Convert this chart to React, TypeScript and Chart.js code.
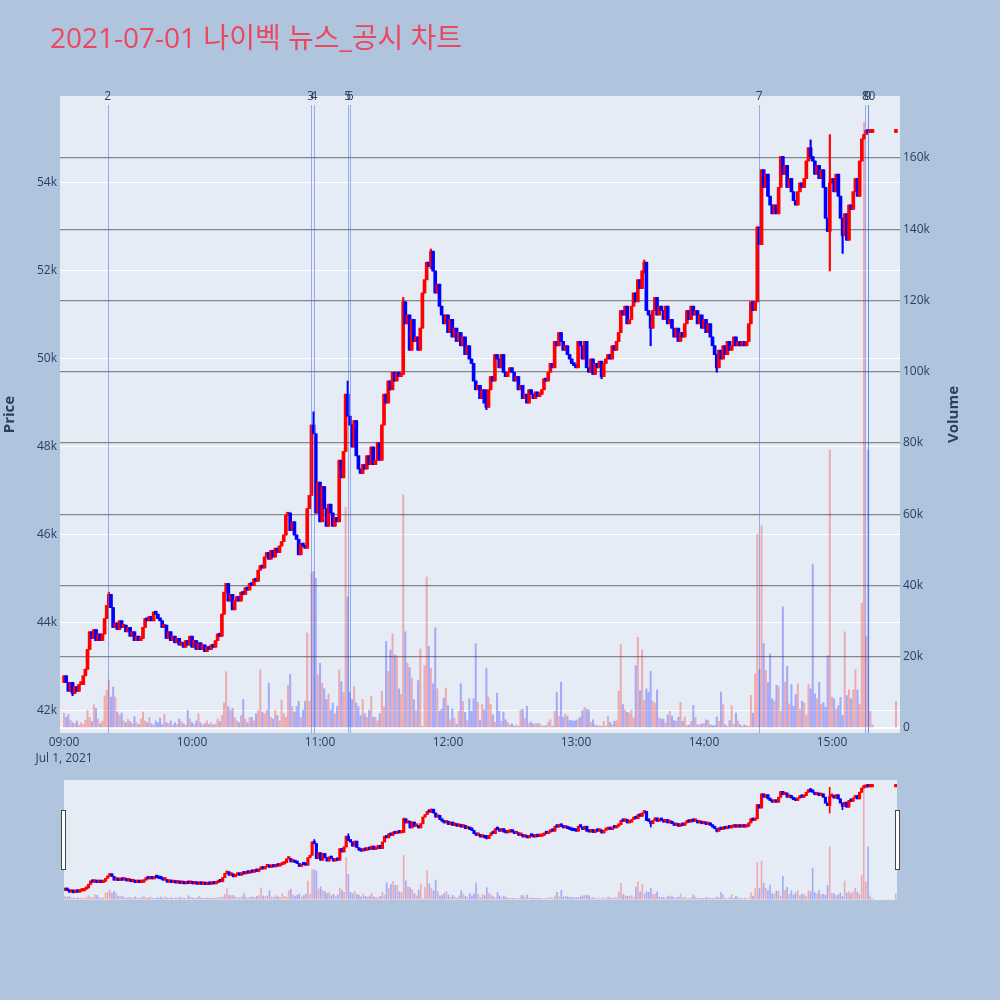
import React, { useEffect, useRef } from "react";
import { Chart, registerables } from "chart.js";

Chart.register(...registerables);

// ---------------- data ----------------
const TITLE = "2021-07-01 나이벡 뉴스_공시 차트";
const PRICE_TITLE = "Price";
const VOLUME_TITLE = "Volume";

const firstOpen = 42650;

// 1-minute closes, minute 0 = 09:00
const closes0900 = [
  42800, 42650, 42450, 42650, 42400, 42550, 42450, 42600, 42600, 42800,
  42950, 43400, 43800, 43650, 43850, 43600, 43750, 43600, 43750, 44100,
  44400, 44650, 44350, 43900, 44000, 43850, 44050, 43900, 43950, 43800,
  43900, 43700, 43800, 43600, 43700, 43600, 43650, 43900, 44100, 44050,
  44150, 44050, 44250, 44200, 44100, 44050, 43900, 43950, 43650, 43800,
  43600, 43700, 43550, 43650, 43500, 43550, 43450, 43600, 43500, 43700,
];
const closes1000 = [
  43450, 43600, 43400, 43550, 43400, 43500, 43350, 43450, 43400, 43500,
  43450, 43600, 43750, 43700, 44200, 44700, 44900, 44500, 44650, 44300,
  44500, 44600, 44500, 44700, 44650, 44800, 44750, 44900, 44850, 45000,
  44950, 45200, 45300, 45250, 45500, 45600, 45450, 45650, 45500, 45700,
  45600, 45750, 45850, 46000, 46450, 46500, 46100, 46300, 46000, 45900,
  45550, 45800, 45750, 45700, 46600, 46900, 48500, 48300, 46500, 47200,
];
const closes1100 = [
  46300, 47100, 46600, 46200, 46700, 46500, 46200, 46400, 46300, 47700,
  47300, 47900, 49200, 48700, 48500, 48000, 48600, 47800, 47500, 47400,
  47600, 47500, 47800, 47600, 48000, 47600, 47700, 48100, 47700, 48500,
  49200, 49000, 49500, 49300, 49700, 49500, 49700, 49600, 49650, 51300,
  50800, 51000, 50200, 50900, 50400, 50500, 50200, 50700, 51500, 51800,
  52200, 52100, 52450, 52000, 51500, 51700, 51200, 51000, 50800, 51000,
];
const closes1200 = [
  50600, 50900, 50500, 50700, 50400, 50600, 50300, 50500, 50100, 50300,
  50000, 49900, 49500, 49300, 49400, 49100, 49300, 49000, 48900, 49300,
  49600, 49500, 50100, 50000, 49800, 50100, 49700, 49600, 49700, 49800,
  49700, 49500, 49600, 49300, 49400, 49100, 49200, 49000, 49300, 49200,
  49100, 49250, 49150, 49200, 49300, 49550, 49500, 49700, 49900, 49800,
  50400, 50300, 50600, 50400, 50200, 50300, 50100, 50000, 49900, 49850,
];
const closes1300 = [
  49800, 50400, 50300, 50000, 50400, 49800, 49700, 50000, 49650, 49900,
  49800, 49950, 49600, 49900, 50000, 50100, 50000, 50300, 50200, 50400,
  50600, 51100, 51000, 51200, 50800, 50900, 51200, 51500, 51300, 51800,
  51600, 52000, 52200, 51100, 51000, 50700, 51100, 51400, 51000, 51200,
  51100, 50900, 51200, 50800, 50900, 50700, 50500, 50700, 50400, 50600,
  50500, 50800, 51100, 50900, 51200, 51000, 51100, 50800, 51000, 50700,
];
const closes1400 = [
  50900, 50600, 50800, 50500, 50300, 50100, 49800, 50200, 50000, 50300,
  50100, 50400, 50200, 50300, 50500, 50300, 50400, 50300, 50400, 50300,
  50400, 50800, 51300, 51100, 51300, 53000, 52600, 54300, 53900, 54200,
  53700, 53500, 53300, 53500, 53300, 53900, 54600, 54200, 54400, 53900,
  54100, 53800, 53600, 53500, 53800, 54000, 53900, 54100, 54500, 54800,
  54600, 54500, 54200, 54400, 54100, 54300, 53900, 53200, 52900, 54000,
];
const closes1500 = [
  54100, 53800, 54200, 53700, 53200, 52800, 53300, 52700, 53500, 53400,
  53800, 54100, 53700, 54500, 55000, 55100, 55200, 55150, 55150, 55150,
];
const auctionMinute = 390; // 15:30 closing auction
const auctionClose = 55200;

const volumes0900 = [
  4200, 3000, 3800, 2200, 1500, 1200, 2000, 800, 1500, 1000,
  2200, 5000, 3000, 1800, 6500, 5500, 2500, 1200, 2000, 9000,
  10500, 13500, 8700, 11500, 8700, 4500, 3500, 4200, 2000, 1500,
  2500, 1800, 1200, 3200, 1500, 1000, 2500, 4500, 2000, 1500,
  3000, 1200, 800, 2000, 1500, 2800, 1000, 3800, 1500, 1200,
  2000, 800, 1500, 1000, 2500, 1800, 1200, 800, 5000, 2500,
];
const volumes1000 = [
  1500, 1000, 2000, 4000, 1500, 800, 1200, 2000, 1000, 1500,
  800, 1200, 2500, 1800, 3500, 7000, 15800, 6000, 5000, 5500,
  3000, 2000, 1500, 3500, 8000, 2500, 1500, 3000, 3000, 2000,
  4000, 5000, 16300, 4500, 4000, 5000, 12600, 3000, 2500, 5000,
  3500, 2000, 7900, 4000, 3000, 12000, 15000, 6000, 4500, 6000,
  7500, 3000, 5000, 7500, 26700, 7500, 43500, 44000, 42000, 15000,
];
const volumes1100 = [
  18200, 12600, 11000, 8000, 9500, 5000, 7000, 4000, 6000, 16300,
  13000, 10000, 62000, 36800, 10000, 8000, 11600, 7000, 6000, 3500,
  8000, 4000, 3000, 5000, 8800, 3000, 3000, 2000, 4000, 10300,
  6000, 24300, 15900, 21900, 26400, 20500, 20300, 11000, 9400, 65400,
  27000, 18200, 17000, 14000, 8000, 4900, 13300, 22200, 500, 17500,
  42400, 22900, 16700, 12400, 28100, 11000, 4700, 5300, 8400, 11200,
];
const volumes1200 = [
  6300, 2300, 5400, 2800, 1100, 4700, 12400, 7500, 4400, 2100,
  8200, 4700, 8200, 23700, 7200, 2100, 6600, 5100, 16800, 8700,
  6600, 3700, 1600, 9800, 4700, 1900, 4500, 2300, 1600, 900,
  1200, 500, 800, 500, 5000, 5300, 2700, 6100, 1400, 1700,
  1100, 1200, 1200, 1200, 600, 600, 600, 1600, 2300, 500,
  4700, 10000, 3300, 12900, 3000, 3900, 3300, 2100, 2100, 1900,
];
const volumes1300 = [
  2100, 2500, 3000, 4900, 5800, 5300, 5100, 1600, 2300, 900,
  600, 600, 500, 1900, 600, 3300, 1600, 900, 1900, 2100,
  10300, 23400, 6600, 5100, 4400, 4200, 5100, 2800, 17500, 25500,
  10500, 21900, 7800, 11000, 10000, 15900, 7500, 7000, 10700, 2800,
  2500, 2500, 1400, 3700, 4700, 3300, 2100, 1900, 3000, 7200,
  1900, 3100, 700, 800, 1900, 6300, 3000, 900, 900, 1200,
];
const volumes1400 = [
  1200, 2300, 2100, 900, 700, 700, 3100, 1900, 10100, 6600,
  900, 500, 2100, 6300, 1100, 4200, 1900, 900, 500, 900,
  700, 500, 9200, 4200, 15200, 54500, 16400, 56800, 23700, 16200,
  12800, 20800, 8200, 7500, 12000, 11700, 4700, 34000, 12900, 17300,
  6800, 12200, 6100, 9400, 12400, 5300, 7500, 7000, 3700, 12200,
  11000, 46000, 9600, 8200, 12800, 6700, 7200, 5800, 20300, 78000,
];
const volumes1500 = [
  8700, 8200, 5300, 6300, 8600, 3500, 27000, 9100, 10700, 8200,
  10700, 16400, 10700, 6600, 35000, 170000, 25600, 78000, 4700, 900,
];
const auctionVolume = 7500;

// [minute, high, low] for candles whose wicks reach past their bodies
const wickExtremes: [number, number, number][] = [
  [4, 42650, 42350],
  [21, 44700, 44350],
  [117, 48800, 48300],
  [133, 49500, 48700],
  [159, 51400, 49650],
  [172, 52500, 52050],
  [198, 49300, 48850],
  [252, 49950, 49550],
  [272, 52250, 51950],
  [275, 51000, 50300],
  [306, 50100, 49700],
  [350, 54980, 54550],
  [359, 55100, 52000],
  [365, 53200, 52400],
];

// news / disclosure markers (minute offsets from 09:00)
const eventMinutes = [20.5, 115.6, 117.1, 133, 134.1, 325.9, 375.7, 376.9, 377.1];
const eventLabels = ["2", "3", "4", "5", "6", "7", "8", "9", "10"];

const hourTicks = [0, 60, 120, 180, 240, 300, 360];
const hourLabels = ["09:00", "10:00", "11:00", "12:00", "13:00", "14:00", "15:00"];
const dateLabel = "Jul 1, 2021";
const priceTicks = [42000, 44000, 46000, 48000, 50000, 52000, 54000];
const volumeTicks = [0, 20000, 40000, 60000, 80000, 100000, 120000, 140000, 160000];

// ---------------- styles ----------------
const PAPER_BG = "#B0C4DE";
const PLOT_BG = "#E5ECF6";
const TEXT = "#2a3f5f";
const UP = "#FF0000";
const DOWN = "#0000FF";
const VOL_UP = "rgba(255,0,0,0.28)";
const VOL_DOWN = "rgba(0,0,255,0.28)";
const FONT = '"Open Sans", "Noto Sans CJK KR", sans-serif';

function buildSeries() {
  const closes = [
    ...closes0900, ...closes1000, ...closes1100, ...closes1200,
    ...closes1300, ...closes1400, ...closes1500, auctionClose,
  ];
  const volumes = [
    ...volumes0900, ...volumes1000, ...volumes1100, ...volumes1200,
    ...volumes1300, ...volumes1400, ...volumes1500, auctionVolume,
  ];
  const n = closes.length;
  const times = closes.map((_, i) => (i < n - 1 ? i : auctionMinute));
  const opens = closes.map((_, i) => (i === 0 ? firstOpen : closes[i - 1]));
  const highs = closes.map((c, i) => Math.max(c, opens[i]));
  const lows = closes.map((c, i) => Math.min(c, opens[i]));
  wickExtremes.forEach(([m, h, l]) => {
    highs[m] = Math.max(highs[m], h);
    lows[m] = Math.min(lows[m], l);
  });
  const up = closes.map((c, i) => c >= opens[i]);
  return { times, opens, closes, highs, lows, volumes, up };
}

type Series = ReturnType<typeof buildSeries>;

function makeDatasets(s: Series, thin: boolean): any[] {
  return [
    {
      type: "bar",
      label: "Volume",
      yAxisID: "yv",
      data: s.times.map((t, i) => ({ x: t, y: s.volumes[i] })),
      backgroundColor: s.up.map((u) => (u ? VOL_UP : VOL_DOWN)),
      barThickness: thin ? 1 : 1.4,
      grouped: false,
      order: 3,
      borderWidth: 0,
    },
    {
      type: "bar",
      label: "Wick",
      yAxisID: "y",
      data: s.times.map((t, i) => ({ x: t, y: [s.lows[i], s.highs[i]] })),
      backgroundColor: s.up.map((u) => (u ? UP : DOWN)),
      barThickness: thin ? 1 : 1.5,
      grouped: false,
      order: 2,
      borderWidth: 0,
    },
    {
      type: "bar",
      label: "Body",
      yAxisID: "y",
      data: s.times.map((t, i) => ({ x: t, y: [s.opens[i], s.closes[i]] })),
      backgroundColor: s.up.map((u) => (u ? UP : DOWN)),
      barThickness: thin ? 2.5 : 3,
      minBarLength: thin ? 2.5 : 3,
      grouped: false,
      order: 1,
      borderWidth: 0,
    },
  ];
}

const plotBgPlugin = {
  id: "plotBg",
  beforeDraw(chart: any) {
    const { ctx, chartArea: a } = chart;
    ctx.save();
    ctx.fillStyle = PLOT_BG;
    ctx.fillRect(a.left, a.top, a.right - a.left, a.bottom - a.top);
    ctx.restore();
  },
};

const decorPlugin = {
  id: "decor",
  afterDatasetsDraw(chart: any) {
    const { ctx, chartArea: a } = chart;
    const xs = chart.scales.x;
    ctx.save();
    ctx.strokeStyle = "rgba(65,105,225,0.5)";
    ctx.lineWidth = 1;
    eventMinutes.forEach((m) => {
      const px = Math.round(xs.getPixelForValue(m)) + 0.5;
      ctx.beginPath();
      ctx.moveTo(px, a.top + 9);
      ctx.lineTo(px, a.bottom);
      ctx.stroke();
    });
    ctx.restore();
  },
  afterDraw(chart: any) {
    const { ctx, chartArea: a } = chart;
    const xs = chart.scales.x;
    ctx.save();
    // title
    ctx.fillStyle = "#EB4860";
    ctx.font = `28px ${FONT}`;
    ctx.textAlign = "left";
    ctx.textBaseline = "middle";
    ctx.fillText(TITLE, 50, 40);
    // event labels
    ctx.fillStyle = TEXT;
    ctx.font = `12px ${FONT}`;
    ctx.textAlign = "center";
    eventMinutes.forEach((m, i) => {
      ctx.fillText(eventLabels[i], xs.getPixelForValue(m), a.top + 1);
    });
    // axis titles
    const cy = (a.top + a.bottom) / 2;
    ctx.font = `bold 15px ${FONT}`;
    ctx.translate(10, cy);
    ctx.rotate(-Math.PI / 2);
    ctx.fillText(PRICE_TITLE, 0, 0);
    ctx.setTransform(1, 0, 0, 1, 0, 0);
    ctx.translate(954, cy);
    ctx.rotate(-Math.PI / 2);
    ctx.fillText(VOLUME_TITLE, 0, 0);
    ctx.restore();
  },
};

export default function App() {
  const mainRef = useRef<HTMLCanvasElement>(null);
  const sliderRef = useRef<HTMLCanvasElement>(null);

  useEffect(() => {
    const s = buildSeries();
    const tickFont = { family: FONT, size: 12, lineHeight: 1.2 };
    const xTickFont = { family: FONT, size: 12, lineHeight: 1.3333 };

    const main = new Chart(mainRef.current as HTMLCanvasElement, {
      type: "bar",
      data: { datasets: makeDatasets(s, false) },
      options: {
        responsive: false,
        animation: false,
        devicePixelRatio: 1,
        layout: { padding: { top: 96, left: 0, right: 0, bottom: 0 } },
        plugins: { legend: { display: false }, tooltip: { enabled: false } },
        scales: {
          x: {
            type: "linear",
            min: -1.9,
            max: 391.9,
            offset: false,
            afterFit: (sc: any) => { sc.height = 47; },
            afterBuildTicks: (sc: any) => { sc.ticks = hourTicks.map((v) => ({ value: v })); },
            ticks: {
              autoSkip: false,
              maxRotation: 0,
              padding: -6,
              color: TEXT,
              font: xTickFont,
              callback: (v: any) => {
                const i = hourTicks.indexOf(Number(v));
                if (i < 0) return "";
                return i === 0 ? [hourLabels[0], dateLabel] : hourLabels[i];
              },
            },
            grid: { display: false },
            border: { display: false },
          },
          y: {
            type: "linear",
            position: "left",
            min: 41500,
            max: 55977,
            afterFit: (sc: any) => { sc.width = 60; },
            afterBuildTicks: (sc: any) => { sc.ticks = priceTicks.map((v) => ({ value: v })); },
            ticks: {
              padding: 3,
              color: TEXT,
              font: tickFont,
              callback: (v: any) => `${Number(v) / 1000}k`,
            },
            grid: { color: "#ffffff", lineWidth: 1, drawTicks: false },
            border: { display: false },
          },
          yv: {
            type: "linear",
            position: "right",
            min: -1400,
            max: 177400,
            afterFit: (sc: any) => { sc.width = 100; },
            afterBuildTicks: (sc: any) => { sc.ticks = volumeTicks.map((v) => ({ value: v })); },
            ticks: {
              padding: 3,
              color: TEXT,
              font: tickFont,
              callback: (v: any) => (Number(v) === 0 ? "0" : `${Number(v) / 1000}k`),
            },
            grid: {
              color: (c: any) => (c.tick && c.tick.value === 0 ? "#ffffff" : "rgba(110,110,110,0.8)"),
              lineWidth: (c: any) => (c.tick && c.tick.value === 0 ? 2 : 1.2),
              drawTicks: false,
            },
            border: { display: false },
          },
        },
      } as any,
      plugins: [plotBgPlugin, decorPlugin],
    } as any);

    const slider = new Chart(sliderRef.current as HTMLCanvasElement, {
      type: "bar",
      data: { datasets: makeDatasets(s, true) },
      options: {
        responsive: false,
        animation: false,
        devicePixelRatio: 1,
        layout: { padding: 0 },
        plugins: { legend: { display: false }, tooltip: { enabled: false } },
        scales: {
          x: { type: "linear", min: -0.5, max: 390.6, offset: false, display: false },
          y: { type: "linear", min: 41500, max: 55977, display: false },
          yv: { type: "linear", min: -1400, max: 177400, display: false },
        },
      } as any,
      plugins: [plotBgPlugin],
    } as any);

    return () => {
      main.destroy();
      slider.destroy();
    };
  }, []);

  const handle = (left: number): React.CSSProperties => ({
    position: "absolute",
    left,
    top: 810,
    width: 3,
    height: 58,
    background: "#ffffff",
    border: "1px solid #444",
  });

  return (
    <div
      style={{
        position: "absolute",
        left: 0,
        top: 0,
        width: 1000,
        height: 1000,
        background: PAPER_BG,
        overflow: "hidden",
      }}
    >
      <canvas
        ref={mainRef}
        width={1000}
        height={780}
        style={{ position: "absolute", left: 0, top: 0, width: 1000, height: 780 }}
      />
      <canvas
        ref={sliderRef}
        width={833}
        height={120}
        style={{ position: "absolute", left: 64, top: 780, width: 833, height: 120 }}
      />
      <div style={handle(61)} />
      <div style={handle(895)} />
    </div>
  );
}
